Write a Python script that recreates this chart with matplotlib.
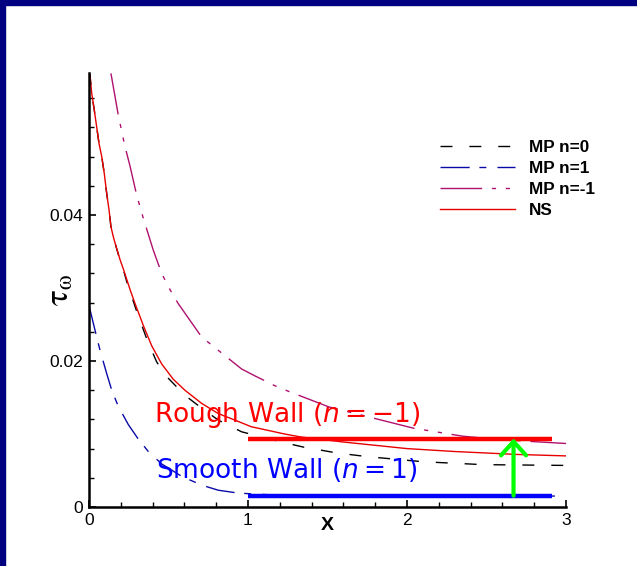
import matplotlib
matplotlib.use("Agg")
import matplotlib.pyplot as plt
from matplotlib.patches import Rectangle
from matplotlib.ticker import MultipleLocator

plt.rcParams['mathtext.fontset'] = 'cm'

# ---------------- data ----------------
ns_x = [0.0, 0.006, 0.017, 0.033, 0.048, 0.063, 0.080, 0.096, 0.111, 0.126, 0.138, 0.153,
        0.174, 0.195, 0.216, 0.237, 0.258, 0.289, 0.341, 0.394, 0.457, 0.530, 0.603, 0.708,
        0.813, 0.918, 1.02, 1.23, 1.33, 1.60, 2.0, 2.3, 2.69, 3.0]
ns_y = [0.0594, 0.0592, 0.0567, 0.0544, 0.0521, 0.0498, 0.0480, 0.0457, 0.0430, 0.0407, 0.0384, 0.0370,
        0.0354, 0.0339, 0.0326, 0.0312, 0.0298, 0.0279, 0.0249, 0.0221, 0.0196, 0.0175, 0.0160, 0.0142,
        0.0128, 0.0119, 0.0110, 0.0100, 0.0096, 0.0089, 0.0080, 0.0076, 0.0072, 0.0070]

mp0_x = [0.0, 0.006, 0.017, 0.033, 0.048, 0.063, 0.080, 0.096, 0.111, 0.126, 0.138, 0.153,
         0.174, 0.195, 0.216, 0.237, 0.30, 0.362, 0.425, 0.478, 0.603, 0.687, 0.813, 0.96,
         1.21, 1.35, 1.56, 1.75, 2.10, 2.48, 2.98, 3.0]
mp0_y = [0.0594, 0.0592, 0.0567, 0.0544, 0.0521, 0.0498, 0.0480, 0.0457, 0.0430, 0.0407, 0.0384, 0.0370,
         0.0354, 0.0338, 0.0325, 0.0309, 0.0268, 0.0231, 0.0199, 0.0181, 0.0153, 0.0139, 0.0119, 0.0103,
         0.0089, 0.0082, 0.0074, 0.0069, 0.0062, 0.0058, 0.0057, 0.0057]

mp1_x = [0.0, 0.038, 0.069, 0.111, 0.143, 0.184, 0.247, 0.31, 0.373, 0.457, 0.583, 0.708,
         0.813, 0.94, 1.2, 1.6, 2.0, 2.5, 2.93]
mp1_y = [0.0276, 0.0242, 0.0215, 0.0183, 0.0160, 0.0138, 0.0113, 0.0093, 0.0076, 0.0059, 0.0042, 0.0030,
         0.0023, 0.0019, 0.0016, 0.0015, 0.0015, 0.0015, 0.0015]

mpm1_x = [0.138, 0.184, 0.226, 0.258, 0.30, 0.341, 0.404, 0.457, 0.509, 0.56, 0.708, 0.96,
          1.04, 1.17, 1.26, 1.51, 2.04, 2.35, 2.6, 3.0]
mpm1_y = [0.0594, 0.0537, 0.0494, 0.0467, 0.0427, 0.0396, 0.0352, 0.0320, 0.0298, 0.0279, 0.0233, 0.0189,
          0.0180, 0.0166, 0.0158, 0.0137, 0.0108, 0.0097, 0.0092, 0.0087]

rough_level = 0.0093
smooth_level = 0.00155
level_x = [1.0, 2.91]
arrow_x = 2.67

labels = ['MP n=0', 'MP n=1', 'MP n=-1', 'NS']

# ---------------- figure ----------------
W, H = 637, 566
fig = plt.figure(figsize=(W / 100, H / 100), dpi=100)
ax = fig.add_axes([89 / W, (H - 507) / H, (566 - 89) / W, (507 - 73) / H])

ax.plot(mp0_x, mp0_y, color='black', lw=1.0, linestyle=(0, (8.6, 12.2)), label=labels[0])
ax.plot(mp1_x, mp1_y, color='#0a0aa8', lw=1.0, linestyle=(0, (21, 7, 5, 8)), label=labels[1])
ax.plot(mpm1_x, mpm1_y, color='#b0106e', lw=1.0, linestyle=(0, (30, 7, 3, 7, 3, 7)), label=labels[2])
ax.plot(ns_x, ns_y, color='#e80000', lw=1.0, linestyle='-', label=labels[3])

ax.plot(level_x, [rough_level, rough_level], color='#ff0000', lw=3.2, solid_capstyle='butt')
ax.plot(level_x, [smooth_level, smooth_level], color='#0000ff', lw=3.2, solid_capstyle='butt')

ax.annotate('', xy=(arrow_x, rough_level + 0.0001), xytext=(arrow_x, smooth_level),
            arrowprops=dict(arrowstyle='->,head_length=0.5,head_width=0.45', color='#00ff00',
                            lw=3.0, shrinkA=0, shrinkB=0, mutation_scale=20))

ax.text(0.410, 0.0116, r'Rough Wall ($n = -1$)', color='#ff0000', fontsize=19,
        ha='left', va='baseline', math_fontfamily='dejavusans')
ax.text(0.422, 0.0040, r'Smooth Wall ($n = 1$)', color='#0000ff', fontsize=19,
        ha='left', va='baseline', math_fontfamily='dejavusans')

ax.set_xlim(0, 3)
ax.set_ylim(0, 0.05945)
for s in ['top', 'right']:
    ax.spines[s].set_visible(False)
for s in ['left', 'bottom']:
    ax.spines[s].set_linewidth(1.8)

ax.xaxis.set_major_locator(MultipleLocator(1))
ax.xaxis.set_minor_locator(MultipleLocator(0.2))
ax.yaxis.set_major_locator(MultipleLocator(0.02))
ax.yaxis.set_minor_locator(MultipleLocator(0.004))
ax.set_yticks([0, 0.02, 0.04])
ax.set_yticklabels(['0', '0.02', '0.04'])
ax.set_xticks([0, 1, 2, 3])
ax.set_xticklabels(['0', '1', '2', '3'])
ax.tick_params(which='major', direction='in', length=5, width=1.2, pad=4,
               labelsize=12.5)
ax.tick_params(which='minor', direction='in', length=3.5, width=1.0)
for lab in ax.get_xticklabels() + ax.get_yticklabels():
    lab.set_fontfamily('Liberation Sans')

ax.set_xlabel('X', fontsize=14, fontfamily='Liberation Sans', fontweight='bold')
ax.xaxis.set_label_coords(0.5, -0.022)
ax.text(-0.062, 0.5, r'$\mathrm{\tau}_{\mathrm{\omega}}$', rotation=90, transform=ax.transAxes,
        ha='center', va='center', fontsize=24, math_fontfamily='stix')

leg = ax.legend(loc='upper left', bbox_to_anchor=(440 / W, 1 - 140 / H),
                bbox_transform=fig.transFigure, frameon=False, borderpad=0,
                borderaxespad=0, handlelength=4.4, handletextpad=0.8,
                labelspacing=0.36, prop={'family': 'Liberation Sans', 'weight': 'bold', 'size': 12.3})

fig.patches.append(Rectangle((0, 1 - 5 / H), 1, 5 / H, transform=fig.transFigure,
                             color='#000080', zorder=10))
fig.patches.append(Rectangle((0, 0), 5 / W, 1, transform=fig.transFigure,
                             color='#000080', zorder=10))

fig.savefig('out.png', dpi=100)
